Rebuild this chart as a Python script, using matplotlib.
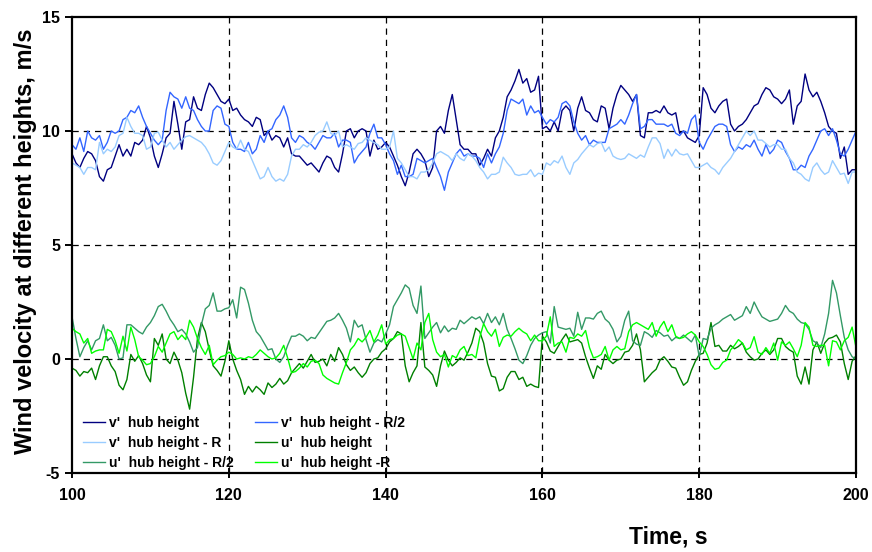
import numpy as np
import matplotlib
matplotlib.use('Agg')
import matplotlib.pyplot as plt

# sampling: one reading every 0.5 s from 100 s to 200 s
time_s = np.arange(100.0, 200.25, 0.5)

# v'  hub height
v_hub = [
    9.0, 8.6, 8.4, 8.8, 9.1, 9.0, 8.7, 8.0, 7.8, 8.3,
    8.4, 8.9, 9.4, 8.9, 9.2, 8.9, 9.5, 9.4, 9.6, 10.2,
    9.7, 8.9, 8.4, 9.0, 9.7, 9.9, 11.3, 10.3, 9.2, 10.4,
    10.5, 11.5, 11.0, 10.9, 11.6, 12.1, 11.9, 11.6, 11.3, 11.2,
    11.4, 10.9, 11.0, 10.7, 10.5, 10.4, 10.2, 10.6, 10.5, 9.8,
    10.0, 9.6, 9.8, 9.7, 9.3, 9.7, 9.0, 8.9, 8.9, 8.7,
    8.5, 8.6, 8.4, 8.2, 8.6, 8.9, 8.8, 8.4, 8.2, 9.0,
    10.0, 10.1, 9.7, 10.0, 10.1, 10.0, 8.9, 9.6, 9.2, 9.3,
    9.5, 9.3, 8.9, 8.5, 8.0, 7.6, 8.2, 9.0, 9.2, 9.0,
    8.7, 8.0, 8.4, 10.0, 10.2, 9.9, 10.9, 11.6, 10.5, 9.4,
    9.2, 9.2, 9.0, 9.0, 8.5, 8.8, 9.2, 8.9, 9.7, 10.0,
    10.6, 11.5, 11.8, 12.2, 12.7, 12.1, 12.3, 11.7, 11.8, 12.4,
    10.1, 10.2, 10.0, 10.4, 10.0, 10.9, 11.1, 10.9, 10.0, 11.0,
    11.5, 10.9, 10.8, 10.5, 10.4, 11.1, 11.0, 10.1, 11.0, 11.6,
    12.0, 11.8, 11.6, 11.3, 11.6, 9.8, 9.7, 10.8, 10.8, 10.9,
    10.8, 11.1, 10.8, 10.7, 10.8, 9.9, 10.0, 9.7, 9.6, 9.5,
    9.8, 11.9, 11.6, 11.0, 10.8, 11.1, 11.3, 11.4, 10.3, 10.0,
    10.2, 10.3, 10.5, 10.8, 11.1, 11.2, 11.6, 11.9, 11.8, 11.5,
    11.4, 11.2, 11.4, 11.8, 10.3, 11.1, 11.3, 12.5, 11.8, 11.5,
    11.7, 11.3, 10.8, 10.2, 10.0, 9.9, 8.8, 9.3, 8.1, 8.3,
    8.3,
]

# v'  hub height - R/2
v_half_r = [
    9.4, 9.2, 9.7, 9.1, 10.0, 9.7, 9.6, 9.8, 9.2, 9.5,
    10.0, 9.9, 10.0, 10.5, 10.6, 10.9, 10.8, 11.1, 10.6, 10.2,
    9.9, 9.6, 9.4, 9.6, 10.9, 11.7, 11.5, 11.4, 11.0, 11.5,
    11.0, 10.9, 10.5, 10.2, 10.0, 10.0, 10.9, 11.1, 11.0, 10.3,
    10.2, 9.5, 9.2, 9.2, 9.1, 9.5, 9.0, 9.2, 9.8, 9.5,
    10.0, 10.1, 10.5, 10.7, 11.1, 10.6, 9.7, 9.5, 9.8, 9.7,
    9.5, 9.4, 9.2, 9.5, 9.8, 9.7, 9.7, 9.9, 9.3, 9.6,
    9.6, 9.5, 8.6, 8.9, 9.1, 9.3, 9.9, 10.3, 9.7, 9.7,
    9.4, 9.0, 8.7, 8.1, 8.5, 8.0, 8.0, 8.1, 8.8, 8.7,
    8.6, 8.7, 8.8, 8.4, 8.0, 7.4, 8.2, 8.6, 9.0, 9.2,
    8.9, 9.0, 8.9, 8.9, 8.8, 8.4, 9.0, 8.6, 9.0, 9.3,
    9.9, 10.9, 11.4, 11.3, 11.2, 11.4, 10.7, 11.1, 10.8, 10.9,
    10.6, 10.3, 10.5, 10.4, 10.6, 11.2, 11.3, 11.1, 10.4, 9.9,
    9.6, 9.8, 9.4, 9.6, 9.5, 9.5, 9.5, 10.1, 10.2, 10.3,
    10.5, 10.3, 10.7, 11.2, 11.6, 10.1, 10.2, 10.5, 10.5, 10.3,
    10.3, 10.3, 10.2, 10.3, 9.9, 9.8, 10.0, 9.9, 10.5, 10.7,
    9.5, 9.2, 9.6, 9.9, 10.2, 10.3, 10.3, 10.2, 9.4, 9.1,
    9.3, 9.2, 9.4, 9.3, 9.6, 9.2, 8.9, 9.4, 9.0, 9.2,
    9.6, 9.5, 9.1, 8.8, 8.3, 8.3, 8.5, 8.4, 8.9, 9.2,
    9.6, 10.0, 10.1, 9.8, 10.1, 9.6, 9.0, 8.9, 9.2, 9.6,
    10.0,
]

# v'  hub height - R
v_r = [
    8.6, 8.5, 8.4, 8.1, 8.4, 8.4, 8.3, 9.5, 9.0, 9.2,
    9.1, 9.3, 9.8, 9.9, 10.6, 10.2, 9.9, 9.9, 9.8, 9.2,
    9.3, 9.9, 9.95, 9.6, 9.3, 9.5, 9.2, 9.4, 9.6, 9.75,
    9.8, 9.7, 9.6, 9.5, 9.3, 9.0, 8.6, 8.5, 8.7, 9.1,
    9.5, 9.3, 9.2, 9.6, 9.2, 9.1, 8.7, 8.3, 7.9, 8.0,
    8.4, 8.0, 7.8, 7.9, 7.8, 8.1, 8.9, 9.2, 9.2, 9.4,
    9.3, 9.5, 9.8, 9.95, 10.0, 10.4, 9.9, 9.8, 10.0, 9.3,
    9.4, 9.3, 9.2, 9.45, 9.5, 9.7, 9.6, 9.5, 9.4, 9.2,
    9.2, 9.3, 10.0, 8.8, 8.6, 8.3, 8.0, 8.0, 7.9, 8.2,
    8.2, 8.3, 8.6, 9.0, 9.1, 9.0, 8.9, 8.7, 9.0, 8.8,
    8.7, 9.0, 8.9, 8.7, 8.4, 8.2, 7.9, 8.1, 8.1, 8.2,
    8.85, 8.6, 8.4, 8.1, 8.05, 8.1, 8.1, 8.3, 8.0, 8.15,
    8.1, 8.6, 8.5, 8.7, 8.6, 8.9, 8.4, 8.1, 8.6, 8.75,
    9.0, 9.2, 9.4, 9.3, 9.45, 9.5, 9.1, 9.3, 8.9, 8.8,
    8.75, 8.8, 9.0, 8.9, 8.8, 8.95, 8.85, 9.3, 9.7, 9.7,
    9.45, 8.8, 9.2, 8.9, 9.2, 9.0, 8.95, 9.0, 8.7, 8.4,
    8.4, 8.5, 8.6, 8.4, 8.3, 8.1, 8.4, 8.6, 8.8, 9.1,
    9.4, 9.7, 10.0, 9.8, 10.0, 9.6, 9.6, 9.45, 9.3, 9.4,
    9.4, 9.2, 9.2, 8.8, 8.6, 8.2, 8.1, 7.9, 7.8, 8.4,
    8.6, 8.3, 8.1, 8.2, 8.7, 8.4, 8.1, 8.15, 7.7, 8.2,
    8.2,
]

# u'  hub height
u_hub = [
    -0.4, -0.5, -0.75, -0.55, -0.6, -0.4, -0.9, -0.3, 0.1, 0.1,
    -0.3, -0.55, -1.15, -1.35, -0.9, 0.2, -0.1, 0.15, -0.2, -0.7,
    -1.0, 0.9, 0.6, 1.1, 0.0, -0.2, 0.3, -0.05, -0.6, -1.5,
    -2.2, -0.8, 0.9, 1.6, 1.2, 0.4, -0.3, -0.5, -0.75, -0.1,
    0.8, 0.0, -0.5, -0.9, -1.55, -1.2, -1.45, -1.2, -1.35, -1.55,
    -1.05, -1.25, -1.1, -0.85, -1.1, -0.95, -0.6, -0.4, -0.2, -0.4,
    -0.1, 0.2, -0.15, -0.1, 0.0, -0.3, 0.2, -0.1, 0.5, 0.2,
    -0.25, -0.5, -0.35, -0.6, -0.8, -0.6, -0.2, 0.0, 0.05, 0.3,
    0.45, 0.75, 0.9, 1.2, 1.1, -0.3, -1.0, -0.6, -0.3, 1.6,
    -0.35, -0.5, -0.7, -1.2, -0.3, 0.35, -0.05, -0.3, -0.15, 0.05,
    -0.05, 0.3, 0.7, 1.35, 1.2, 0.7, -0.2, -0.75, -0.8, -1.4,
    -1.3, -0.8, -0.55, -0.55, -0.9, -0.8, -1.2, -1.1, -1.2, -1.25,
    1.0, 0.75, 0.35, 0.25, 0.55, 0.85, 1.1, 0.75, 0.8, 0.85,
    0.7, 0.1, -0.4, -0.85, -0.3, -0.45, 0.2, -0.05, -0.2, -0.05,
    0.0, 0.3, 0.35, 0.6, 1.1, 0.4, -1.0, -0.8, -0.6, -0.45,
    -0.05, 0.1, -0.1, -0.35, -0.4, -0.8, -1.15, -1.0, -0.5, -0.1,
    0.2, 0.25, 0.7, 1.6, 0.55, 0.6, 0.35, 0.35, 0.6, 0.45,
    0.55, 0.7, 0.3, 0.1, -0.05, 0.0, 0.25, 0.4, 0.2, 0.4,
    0.9, 0.9, 0.55, 0.4, 0.3, -0.75, -1.1, -0.35, -1.1, 0.4,
    0.75, 0.25, 0.7, 0.9, 0.95, 1.05, 0.75, -0.2, -0.9, -0.1,
    0.15,
]

# u'  hub height - R/2
u_half_r = [
    1.85, 0.9, 0.1, 0.5, 0.8, 0.4, 0.8, 0.9, 1.5, 0.8,
    0.95, 0.6, 0.0, 0.05, 1.5, 1.5, 1.35, 1.2, 1.1, 1.4,
    1.6, 1.9, 2.3, 2.4, 2.1, 1.75, 1.5, 1.2, 1.3, 1.1,
    0.75, 0.3, 0.5, 1.5, 2.2, 2.35, 2.9, 2.1, 2.1, 2.2,
    2.25, 2.6, 1.8, 3.15, 3.05, 2.45, 1.7, 1.2, 1.0, 0.7,
    0.4, 0.45, 0.0, -0.15, 0.1, 0.6, 1.0, 1.0, 1.1, 1.0,
    0.8, 0.95, 0.9, 1.15, 1.4, 1.65, 1.7, 1.8, 2.0, 1.7,
    1.35, 0.75, 1.7, 1.4, 1.5, 0.85, 0.3, 0.7, 0.85, 0.75,
    1.1, 1.5, 2.3, 2.6, 2.9, 3.25, 3.1, 2.35, 2.0, 3.2,
    0.9, 1.15, 1.4, 1.6, 1.15, 1.45, 1.2, 1.35, 1.3, 1.7,
    1.55, 1.7, 1.85, 1.75, 1.85, 1.55, 2.0, 1.6, 1.85, 1.5,
    2.0, 1.3, 0.9, 0.45, -0.05, -0.2, 0.15, 0.6, 0.9, 1.05,
    1.15, 1.2, 0.7, 2.3, 1.4, 1.35, 1.3, 1.35, 1.0, 2.05,
    1.3, 1.8, 1.8, 1.75, 2.0, 2.1, 1.75, 1.6, 1.3, 0.75,
    1.0, 1.7, 2.1, 0.8, 0.65, 0.6, 1.2, 1.1, 0.95, 1.25,
    1.15, 1.0, 1.05, 0.8, 0.95, 0.9, 1.05, 0.9, 0.75, 1.05,
    0.1, 0.9, 0.85, 1.35, 1.5, 1.6, 1.75, 1.85, 1.95, 1.7,
    1.8, 1.9, 2.3, 2.0, 2.5, 2.15, 1.85, 1.75, 1.65, 1.7,
    1.75, 2.0, 2.35, 2.1, 2.0, 1.75, 1.6, 1.55, 1.3, 0.8,
    0.7, 0.5, 1.1, 2.0, 3.45, 2.9, 1.9, 0.95, 0.4, 0.1,
    0.0,
]

# u'  hub height -R
u_r = [
    1.35, 1.2, 1.1, 0.7, 0.9, 0.25, 0.35, 0.4, 0.4, 1.3,
    1.2, 0.8, 0.25, 1.0, 0.35, 1.4, 0.85, 0.1, -0.05, -0.25,
    -0.2, 0.1, 0.55, 0.3, 0.7, 1.1, 1.2, 0.85, 1.05, 0.85,
    1.7, 1.4, 0.9, 0.5, 0.2, 0.6, -0.25, -0.05, 0.1, 0.15,
    0.3, 0.2, 0.0, 0.05, 0.0, 0.1, 0.05, 0.2, 0.4, 0.25,
    0.1, 0.0, 0.05, 0.25, 0.6, 0.05, -0.6, -0.55, -0.4, -0.2,
    -0.35, -0.1, -0.05, -0.2, -0.7, -0.85, -0.95, -1.05, -1.1, -0.6,
    -0.15, 0.4, 0.6, 0.9, 0.75, 0.95, 1.25, 0.75, 1.05, 1.5,
    0.65, 0.85, 0.9, 1.05, 1.1, 1.0, 0.5, 0.0, 0.7, 0.4,
    1.6, 2.0, 0.85, 0.3, 0.1, 0.2, -0.35, 0.15, 0.05, 0.4,
    0.55, 0.15, 0.2, 0.05, 0.95, 1.55, 1.2, 1.0, 1.3, 0.55,
    0.95, 1.05, 1.0, 1.2, 1.35, 1.2, 1.1, 0.8, 1.05, 0.8,
    0.8, 1.0, 1.85, 0.55, 0.7, 0.75, 0.3, 0.95, 0.9, 1.1,
    1.0, 1.25, 0.5, 0.05, 0.1, 0.2, 0.55, -0.05, 0.4, 0.55,
    0.4, 0.45, 1.2, 1.5, 1.6, 1.5, 1.4, 1.3, 1.6, 1.0,
    1.4, 1.65, 1.2, 1.5, 1.0, 0.9, 0.95, 1.1, 1.2, 1.05,
    0.75, 0.55, 0.2, -0.25, -0.45, -0.4, -0.15, -0.05, 0.4, 0.6,
    0.85, 0.7, 0.4, 0.5, 0.98, 0.3, 0.2, 0.5, 0.25, 0.7,
    -0.05, 0.75, 0.6, 0.75, 0.45, 0.1, 0.6, 1.6, 1.4, 0.6,
    0.55, 0.6, 0.6, -0.3, 0.8, 0.75, 0.4, 0.8, 0.95, 1.4,
    0.5,
]

series = [
    (v_hub, "v'  hub height", '#000080'),
    (v_half_r, "v'  hub height - R/2", '#3366FF'),
    (v_r, "v'  hub height - R", '#99CCFF'),
    (u_hub, "u'  hub height", '#008000'),
    (u_half_r, "u'  hub height - R/2", '#339966'),
    (u_r, "u'  hub height -R", '#00FF00'),
]

plt.rcParams['font.family'] = ['Liberation Sans', 'DejaVu Sans']
plt.rcParams['font.weight'] = 'bold'
plt.rcParams['axes.unicode_minus'] = False

fig = plt.figure(figsize=(8.72, 5.52), dpi=100)
ax = fig.add_axes([0.0826, 0.1431, 0.8991, 0.8261])

lines = []
for vals, label, color in series:
    ln, = ax.plot(time_s, vals, color=color, lw=1.0, label=label)
    lines.append(ln)

ax.set_xlim(100, 200)
ax.set_ylim(-5, 15)
ax.set_xticks([100, 120, 140, 160, 180, 200])
ax.set_yticks([-5, 0, 5, 10, 15])

# dashed reference lines inside the frame
for yv in [0, 5, 10]:
    ax.axhline(yv, color='black', lw=0.9, ls=(0, (5, 4)), zorder=0)
for xv in [120, 140, 160, 180]:
    ax.axvline(xv, color='black', lw=0.9, ls=(0, (5, 4)), zorder=0)

for sp in ax.spines.values():
    sp.set_linewidth(1.6)
ax.tick_params(axis='both', labelsize=11.5, width=1.4, length=5)
ax.tick_params(axis='x', direction='inout', length=7, pad=7)
for lbl in ax.get_xticklabels() + ax.get_yticklabels():
    lbl.set_fontweight('bold')

ax.set_ylabel('Wind velocity at different heights, m/s', fontsize=17,
              fontweight='bold')
ax.yaxis.set_label_coords(-0.045, 0.508)
fig.text(0.766, 0.028, 'Time, s', fontsize=16.5, fontweight='bold',
         ha='center', va='center')

# legend fills row by row: reorder for the column-major layout
order = [0, 2, 4, 1, 3, 5]
leg = ax.legend([lines[i] for i in order], [series[i][1] for i in order],
                ncol=2, loc='lower left', bbox_to_anchor=(0.012, 0.003),
                frameon=False, fontsize=10, handlelength=1.6,
                handletextpad=0.3, columnspacing=1.5, labelspacing=0.45,
                borderpad=0.1, borderaxespad=0)
for txt in leg.get_texts():
    txt.set_fontweight('bold')

fig.savefig('out.png', dpi=100, facecolor='white')
